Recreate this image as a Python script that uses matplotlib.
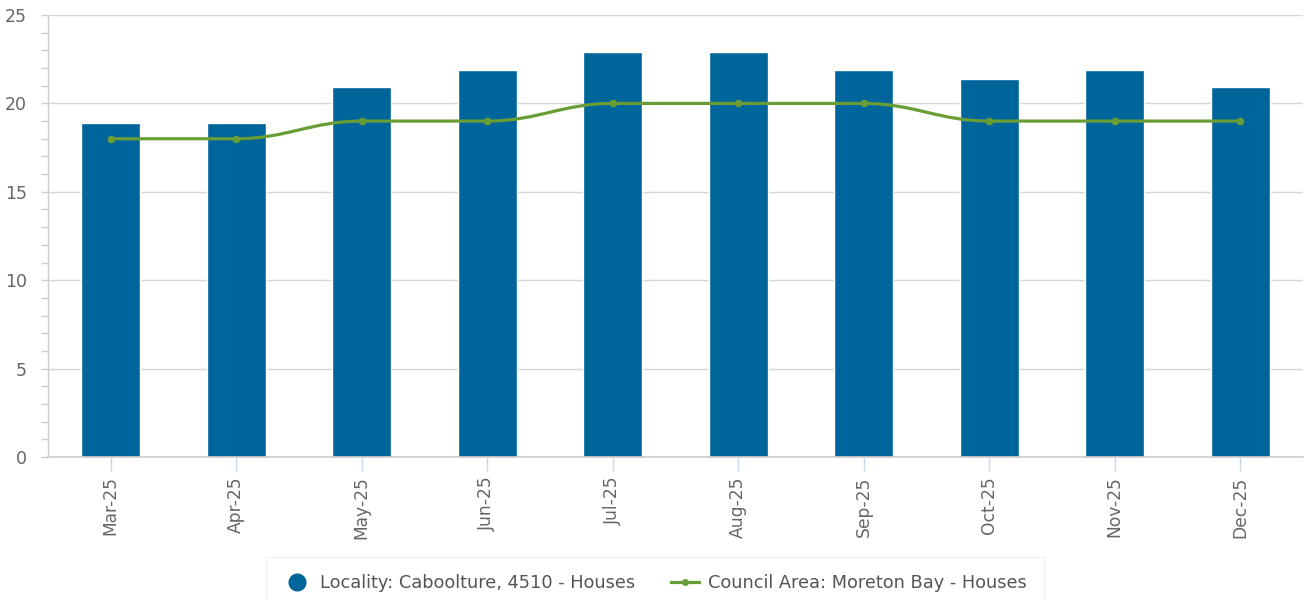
import numpy as np
import matplotlib
matplotlib.use("Agg")
import matplotlib.pyplot as plt
from matplotlib.path import Path
from matplotlib.patches import PathPatch
from matplotlib.lines import Line2D

plt.rcParams["font.family"] = ["DejaVu Sans"]

months = ["Mar-25", "Apr-25", "May-25", "Jun-25", "Jul-25",
          "Aug-25", "Sep-25", "Oct-25", "Nov-25", "Dec-25"]
locality = [18.9, 18.9, 20.9, 21.9, 22.9, 22.9, 21.9, 21.4, 21.9, 20.9]
council = [18, 18, 19, 19, 20, 20, 20, 19, 19, 19]

BAR = "#00659a"
LINE = "#6b9d36"
GRID = "#d6d6d6"
TXT = "#666666"


def spline_path(xs, ys, smoothing=1.5):
    # highcharts-style spline: bezier segments between the data points
    n = len(xs)
    rc = [(xs[0], ys[0])] * n
    verts = [(xs[0], ys[0])]
    codes = [Path.MOVETO]
    denom = smoothing + 1
    for i in range(1, n):
        x, y = xs[i], ys[i]
        lc = (x, y)
        if i < n - 1:
            lx, ly = xs[i - 1], ys[i - 1]
            nx, ny = xs[i + 1], ys[i + 1]
            lcx = (smoothing * x + lx) / denom
            lcy = (smoothing * y + ly) / denom
            rcx = (smoothing * x + nx) / denom
            rcy = (smoothing * y + ny) / denom
            if rcx != lcx:
                corr = (rcy - lcy) * (rcx - x) / (rcx - lcx) + y - rcy
                lcy += corr
                rcy += corr
            if lcy > max(ly, y):
                lcy = max(ly, y); rcy = 2 * y - lcy
            elif lcy < min(ly, y):
                lcy = min(ly, y); rcy = 2 * y - lcy
            if rcy > max(ny, y):
                rcy = max(ny, y); lcy = 2 * y - rcy
            elif rcy < min(ny, y):
                rcy = min(ny, y); lcy = 2 * y - rcy
            lc = (lcx, lcy)
            rc[i] = (rcx, rcy)
        else:
            rc[i] = (x, y)
        verts += [rc[i - 1], lc, (x, y)]
        codes += [Path.CURVE4] * 3
    return Path(verts, codes)


fig = plt.figure(figsize=(13.06, 6), dpi=100)
ax = fig.add_axes([48 / 1306, 143 / 600, 1255 / 1306, 442 / 600])

x = np.arange(len(months))
ax.bar(x, locality, width=0.47, color=BAR, edgecolor="white", linewidth=1, zorder=2)

ax.add_patch(PathPatch(spline_path(x, council), fill=False, edgecolor=LINE,
                       linewidth=2.3, zorder=3, capstyle="round"))
ax.plot(x, council, linestyle="none", marker="o", markersize=4.5, color=LINE, zorder=4)

ax.set_xlim(-0.5, len(months) - 0.5)
ax.set_ylim(0, 25)
ax.set_yticks(range(0, 26, 5))
ax.set_yticks(range(0, 26), minor=True)
ax.grid(axis="y", which="major", color=GRID, linewidth=1, zorder=0)
ax.tick_params(axis="y", which="both", length=5, width=1, color="#cccccc",
               labelsize=12.5, labelcolor=TXT, pad=10)
ax.set_xticks(x)
ax.set_xticklabels(months, rotation=90)
ax.tick_params(axis="x", length=10, width=1, color="#ccd6eb",
               labelsize=12.3, labelcolor=TXT, pad=4)

for s in ["top", "right"]:
    ax.spines[s].set_visible(False)
ax.spines["left"].set_color("#cccccc")
ax.spines["bottom"].set_color("#cccccc")
ax.spines["left"].set_linewidth(1)
ax.spines["bottom"].set_linewidth(1.2)

handles = [
    Line2D([], [], linestyle="none", marker="o", markersize=12, color=BAR),
    Line2D([], [], color=LINE, linewidth=2.3, marker="o", markersize=4),
]
labels = ["Locality: Caboolture, 4510 - Houses", "Council Area: Moreton Bay - Houses"]
leg = fig.legend(handles, labels, loc="upper center", bbox_to_anchor=(655 / 1306, 1 - 557 / 600),
                 ncol=2, frameon=True, fancybox=False, fontsize=12.8, labelcolor="#555555",
                 handlelength=1.6, columnspacing=2.0, borderpad=0.95, handletextpad=0.5,
                 borderaxespad=0)
leg.get_frame().set_edgecolor("#eeeeee")
leg.get_frame().set_linewidth(1)

fig.savefig("out.png", dpi=100)
